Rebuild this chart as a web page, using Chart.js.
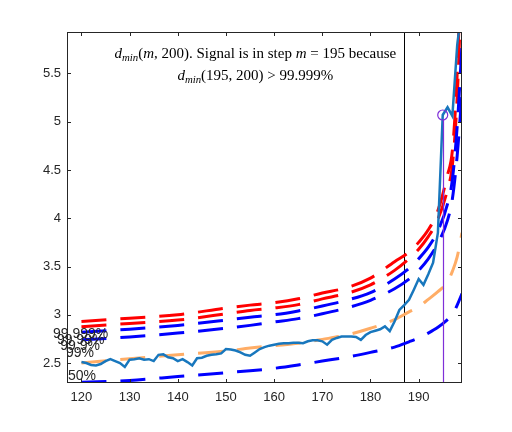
<!DOCTYPE html>
<html>
<head>
<meta charset="utf-8">
<script src="https://cdn.jsdelivr.net/npm/chart.js@4.4.0/dist/chart.umd.min.js"></script>
<style>
  html, body { margin: 0; padding: 0; background: #fff; }
</style>
</head>
<body>
<canvas id="chart" width="512" height="432"></canvas>
<script>
// steps m and the measured d_min(m, 200)
const stepsM = [120, 121, 122, 123, 124, 125, 126, 127, 128, 129,
  130, 131, 132, 133, 134, 135, 136, 137, 138, 139,
  140, 141, 142, 143, 144, 145, 146, 147, 148, 149,
  150, 151, 152, 153, 154, 155, 156, 157, 158, 159,
  160, 161, 162, 163, 164, 165, 166, 167, 168, 169,
  170, 171, 172, 173, 174, 175, 176, 177, 178, 179,
  180, 181, 182, 183, 184, 185, 186, 187, 188, 189,
  190, 191, 192, 193, 194, 195, 196, 197, 198, 199];
const dmin = [2.51, 2.50, 2.48, 2.475, 2.49, 2.52, 2.54, 2.52, 2.50, 2.46,
  2.535, 2.54, 2.55, 2.535, 2.54, 2.52, 2.585, 2.59, 2.56, 2.55,
  2.52, 2.54, 2.51, 2.475, 2.55, 2.555, 2.575, 2.585, 2.59, 2.60,
  2.645, 2.64, 2.63, 2.61, 2.585, 2.575, 2.61, 2.645, 2.665, 2.68,
  2.69, 2.70, 2.705, 2.705, 2.71, 2.71, 2.705, 2.725, 2.735, 2.735,
  2.725, 2.69, 2.74, 2.76, 2.775, 2.775, 2.775, 2.77, 2.74, 2.79,
  2.82, 2.835, 2.85, 2.88, 2.83, 2.93, 3.05, 3.10, 3.155, 3.26,
  3.37, 3.31, 3.42, 3.54, 3.85, 5.07, 5.15, 5.06, 5.79, 6.2];

// percentile curves, read at these steps
const curveM = [120, 130, 140, 150, 155, 160, 165, 170, 175, 180, 185, 188, 190, 192, 194, 196, 197, 198, 199];
const p99999 = [2.93, 2.965, 3.00, 3.07, 3.10, 3.125, 3.165, 3.225, 3.28, 3.38, 3.55, 3.65, 3.75, 3.88, 4.08, 4.45, 4.7, 5.5, 7.0];
const p9999 = [2.875, 2.91, 2.945, 3.01, 3.045, 3.07, 3.105, 3.165, 3.22, 3.31, 3.46, 3.58, 3.68, 3.81, 3.99, 4.3, 4.55, 5.25, 6.6];
const p999 = [2.82, 2.85, 2.89, 2.945, 2.975, 3.0, 3.04, 3.09, 3.15, 3.23, 3.37, 3.48, 3.58, 3.70, 3.87, 4.15, 4.4, 4.95, 5.8];
const p99 = [2.74, 2.77, 2.81, 2.86, 2.89, 2.925, 2.96, 3.01, 3.07, 3.15, 3.27, 3.37, 3.46, 3.58, 3.74, 3.98, 4.2, 4.65, 5.3];
const meanCurve = [2.50, 2.545, 2.585, 2.625, 2.655, 2.68, 2.705, 2.745, 2.79, 2.86, 2.95, 3.03, 3.08, 3.16, 3.24, 3.34, 3.45, 3.6, 3.85];
const p50 = [2.30, 2.32, 2.36, 2.40, 2.42, 2.445, 2.48, 2.52, 2.56, 2.61, 2.665, 2.72, 2.76, 2.81, 2.87, 2.95, 3.0, 3.1, 3.22];

const xTicks = [120, 130, 140, 150, 160, 170, 180, 190];
const yTicks = [2.5, 3, 3.5, 4, 4.5, 5, 5.5];

const thresholdStep = 187;
const signalStep = 195;

// curve labels and where they sit (data units)
const pctLabels = ["99.999%", "99.99%", "99.9%", "99%", "50%"];
const pctLabelM = [114.1, 114.9, 115.6, 116.8, 117.2];
const pctLabelV = [2.80, 2.74, 2.68, 2.60, 2.36];

const tickColor = "#262626";

const pts = (xs, ys) => xs.map((x, i) => ({ x: x, y: ys[i] }));

const dashed = (label, ys, color, order) => ({
  label: label,
  data: pts(curveM, ys),
  borderColor: color,
  borderWidth: 3,
  borderDash: [25, 14],
  pointRadius: 0,
  cubicInterpolationMode: "monotone",
  fill: false,
  order: order
});

// draws a run of normal / italic / subscript pieces centred on cx
function drawRuns(ctx, runs, cx, y) {
  const size = 15;
  const fam = "'Liberation Serif', 'DejaVu Serif', serif";
  const fontOf = (r) => (r.i ? "italic " : "") + (r.sub ? size * 0.72 : size) + "px " + fam;
  let w = 0;
  runs.forEach((r) => { ctx.font = fontOf(r); w += ctx.measureText(r.t).width; });
  let x = cx - w / 2;
  runs.forEach((r) => {
    ctx.font = fontOf(r);
    ctx.fillText(r.t, x, r.sub ? y + 3 : y);
    x += ctx.measureText(r.t).width;
  });
}

const extras = {
  id: "extras",
  beforeDatasetsDraw(chart) {
    const ctx = chart.ctx;
    const a = chart.chartArea;
    const xs = chart.scales.x;
    ctx.save();
    // threshold line
    const tx = Math.round(xs.getPixelForValue(thresholdStep)) + 0.5;
    ctx.strokeStyle = "#000";
    ctx.lineWidth = 1;
    ctx.beginPath();
    ctx.moveTo(tx, a.top);
    ctx.lineTo(tx, a.bottom);
    ctx.stroke();
    ctx.restore();
  },
  afterDatasetsDraw(chart) {
    const ctx = chart.ctx;
    const a = chart.chartArea;
    const xs = chart.scales.x, ys = chart.scales.y;
    ctx.save();
    // signal step marker line
    const sx = Math.round(xs.getPixelForValue(signalStep)) + 0.5;
    const sy = ys.getPixelForValue(dmin[stepsM.indexOf(signalStep)]);
    ctx.strokeStyle = "#7f2fd8";
    ctx.lineWidth = 1.2;
    ctx.beginPath();
    ctx.moveTo(sx, a.bottom);
    ctx.lineTo(sx, sy + 5);
    ctx.stroke();

    // box + inward ticks
    ctx.strokeStyle = "#262626";
    ctx.lineWidth = 1;
    ctx.strokeRect(a.left + 0.5, a.top + 0.5, a.right - a.left - 1, a.bottom - a.top - 1);
    ctx.beginPath();
    xTicks.forEach((v) => {
      const px = Math.round(xs.getPixelForValue(v)) + 0.5;
      ctx.moveTo(px, a.bottom); ctx.lineTo(px, a.bottom - 4);
      ctx.moveTo(px, a.top); ctx.lineTo(px, a.top + 4);
    });
    yTicks.forEach((v) => {
      const py = Math.round(ys.getPixelForValue(v)) + 0.5;
      ctx.moveTo(a.left, py); ctx.lineTo(a.left + 4, py);
      ctx.moveTo(a.right, py); ctx.lineTo(a.right - 4, py);
    });
    ctx.stroke();

    // percentile labels
    ctx.fillStyle = tickColor;
    ctx.font = "14px 'Liberation Sans', Arial, sans-serif";
    ctx.textAlign = "left";
    ctx.textBaseline = "middle";
    pctLabels.forEach((t, i) => {
      ctx.fillText(t, xs.getPixelForValue(pctLabelM[i]), ys.getPixelForValue(pctLabelV[i]));
    });

    // annotation text
    ctx.fillStyle = "#000";
    ctx.textBaseline = "alphabetic";
    const cx = xs.getPixelForValue(156.1);
    drawRuns(ctx, [
      { t: "d", i: true }, { t: "min", i: true, sub: true }, { t: "(" },
      { t: "m", i: true }, { t: ", 200). Signal is in step " },
      { t: "m", i: true }, { t: " = 195 because" }
    ], cx, ys.getPixelForValue(5.66));
    drawRuns(ctx, [
      { t: "d", i: true }, { t: "min", i: true, sub: true },
      { t: "(195, 200) > 99.999%" }
    ], cx, ys.getPixelForValue(5.435));
    ctx.restore();
  }
};

const tickFont = { family: "'Liberation Sans', Arial, sans-serif", size: 13 };

new Chart(document.getElementById("chart").getContext("2d"), {
  type: "line",
  data: {
    datasets: [
      dashed("99.999%", p99999, "#ff0000", 10),
      dashed("99.99%", p9999, "#ff0000", 9),
      dashed("99.9%", p999, "#0000ff", 8),
      dashed("99%", p99, "#0000ff", 7),
      dashed("mean", meanCurve, "#ffad66", 6),
      dashed("50%", p50, "#0000ff", 5),
      {
        label: "dmin",
        data: pts(stepsM, dmin),
        borderColor: "#1877bd",
        borderWidth: 2.5,
        pointRadius: 0,
        tension: 0,
        fill: false,
        order: 2
      },
      {
        type: "scatter",
        label: "signal",
        data: [{ x: signalStep, y: dmin[stepsM.indexOf(signalStep)] }],
        pointStyle: "circle",
        pointRadius: 5,
        pointBorderColor: "#7f2fd8",
        pointBackgroundColor: "rgba(0,0,0,0)",
        pointBorderWidth: 1.2,
        order: 1
      }
    ]
  },
  options: {
    responsive: false,
    animation: false,
    events: [],
    layout: { padding: { top: 32, right: 50, left: 0, bottom: 0 } },
    plugins: { legend: { display: false }, tooltip: { enabled: false } },
    scales: {
      x: {
        type: "linear",
        min: 117,
        max: 199,
        afterBuildTicks: (s) => { s.ticks = xTicks.map((v) => ({ value: v })); },
        afterFit: (s) => { s.height = 49; },
        grid: { display: false, drawTicks: false },
        border: { display: false },
        ticks: { font: tickFont, color: tickColor, padding: 7, maxRotation: 0, autoSkip: false }
      },
      y: {
        type: "linear",
        min: 2.293,
        max: 5.93,
        afterBuildTicks: (s) => { s.ticks = yTicks.map((v) => ({ value: v })); },
        afterFit: (s) => { s.width = 67; },
        grid: { display: false, drawTicks: false },
        border: { display: false },
        ticks: { font: tickFont, color: tickColor, padding: 6, callback: (v) => String(v) }
      }
    }
  },
  plugins: [extras]
});
</script>
</body>
</html>
